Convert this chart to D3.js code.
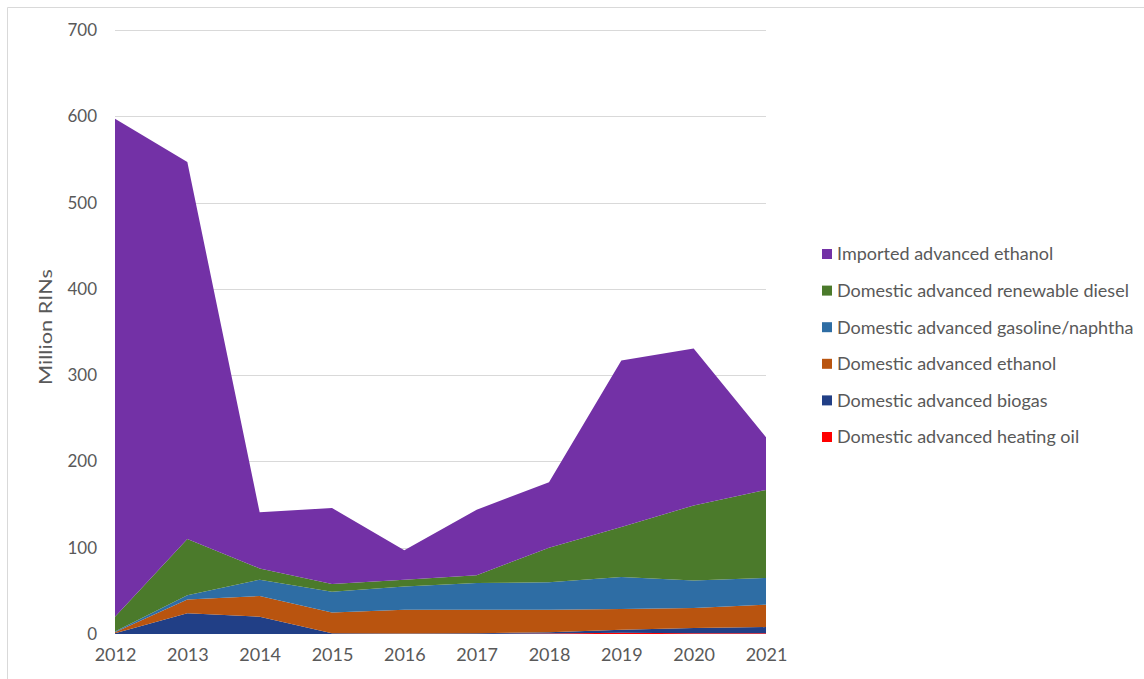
<!DOCTYPE html>
<html>
<head>
<meta charset="utf-8">
<script src="https://cdn.jsdelivr.net/npm/d3@7"></script>
<style>
  body { margin: 0; background: #fff; }
  svg { display: block; font-family: Lato, "Open Sans", sans-serif; }
</style>
</head>
<body>
<script>
// values (million RINs)
const years = [2012, 2013, 2014, 2015, 2016, 2017, 2018, 2019, 2020, 2021];
const heatingOil = [0, 0, 0, 0, 0, 0, 0.5, 1.5, 1, 1];
const biogas = [1, 24, 20, 1, 0.5, 1, 1.5, 3.5, 6, 7];
const ethanolDomestic = [1, 16, 24, 24, 27.5, 27, 26, 24, 23, 26];
const gasolineNaphtha = [1, 5, 19, 24, 27, 31, 32, 37, 32, 31];
const renewableDiesel = [17, 65, 13, 9, 8, 9, 40, 58, 87, 102];
const ethanolImported = [577, 437, 65, 88, 34, 76, 76, 193, 182, 61];
const yTicks = [0, 100, 200, 300, 400, 500, 600, 700];

// bottom to top
const seriesKeys = ['heating', 'biogas', 'ethDom', 'gasoline', 'diesel', 'ethImp'];
const seriesNames = {
    heating: 'Domestic advanced heating oil',
    biogas: 'Domestic advanced biogas',
    ethDom: 'Domestic advanced ethanol',
    gasoline: 'Domestic advanced gasoline/naphtha',
    diesel: 'Domestic advanced renewable diesel',
    ethImp: 'Imported advanced ethanol'
};
const seriesColors = {
    heating: '#ff0000',
    biogas: '#213f86',
    ethDom: '#b9540f',
    gasoline: '#2e6da4',
    diesel: '#4b7a2b',
    ethImp: '#7331a6'
};

const rows = years.map((yr, i) => ({
    year: yr,
    heating: heatingOil[i],
    biogas: biogas[i],
    ethDom: ethanolDomestic[i],
    gasoline: gasolineNaphtha[i],
    diesel: renewableDiesel[i],
    ethImp: ethanolImported[i]
}));

const W = 1144, H = 679;
const svg = d3.select('body').append('svg')
    .attr('width', W)
    .attr('height', H);

// outer frame of the pasted chart
svg.append('path')
    .attr('d', `M7.5,${H} V7.5 H${W}`)
    .attr('fill', 'none')
    .attr('stroke', '#d9d9d9');

const x = d3.scaleLinear()
    .domain(d3.extent(years))
    .range([115, 766]);
const y = d3.scaleLinear()
    .domain([0, 700])
    .range([634, 30]);

// gridlines
svg.append('g')
    .selectAll('line')
    .data(yTicks.filter(d => d > 0))
    .enter()
    .append('line')
    .attr('x1', 115)
    .attr('x2', 766)
    .attr('y1', d => Math.round(y(d)) + 0.5)
    .attr('y2', d => Math.round(y(d)) + 0.5)
    .attr('stroke', '#d9d9d9')
    .attr('stroke-width', 1);

const stacked = d3.stack().keys(seriesKeys)(rows);
const area = d3.area()
    .x(d => x(d.data.year))
    .y0(d => y(d[0]))
    .y1(d => y(d[1]));

svg.append('g')
    .selectAll('path')
    .data(stacked)
    .enter()
    .append('path')
    .attr('d', area)
    .attr('fill', d => seriesColors[d.key]);

// y axis labels
const yAxis = svg.append('g')
    .attr('transform', 'translate(97,0)')
    .call(d3.axisLeft(y).tickValues(yTicks).tickSize(0).tickPadding(0));
yAxis.select('.domain').remove();
yAxis.selectAll('text')
    .attr('fill', '#595959')
    .style('font-size', '17px')
    .style('font-family', 'Lato, sans-serif');

// x axis labels
const xAxis = svg.append('g')
    .attr('transform', 'translate(0,648)')
    .call(d3.axisBottom(x).tickValues(years).tickFormat(d3.format('d')).tickSize(0).tickPadding(0));
xAxis.select('.domain').remove();
xAxis.selectAll('text')
    .attr('fill', '#595959')
    .style('font-size', '18px')
    .style('font-family', 'Lato, sans-serif');

// the source picture is stretched vertically, so the rotated title is long
svg.append('text')
    .attr('transform', 'translate(52,327) rotate(-90)')
    .attr('text-anchor', 'middle')
    .attr('fill', '#595959')
    .attr('textLength', 116)
    .attr('lengthAdjust', 'spacingAndGlyphs')
    .style('font-size', '18px')
    .text('Million RINs');

// legend, top entry is the top series
const legend = svg.append('g')
    .selectAll('g')
    .data(seriesKeys.slice().reverse())
    .enter()
    .append('g')
    .attr('transform', (d, i) => `translate(822,${254 + i * 36.6})`);

legend.append('rect')
    .attr('x', 0)
    .attr('y', -5)
    .attr('width', 10)
    .attr('height', 10)
    .attr('fill', d => seriesColors[d]);

legend.append('text')
    .attr('x', 15)
    .attr('dy', '0.35em')
    .attr('fill', '#595959')
    .style('font-size', '18px')
    .text(d => seriesNames[d]);
</script>
</body>
</html>
